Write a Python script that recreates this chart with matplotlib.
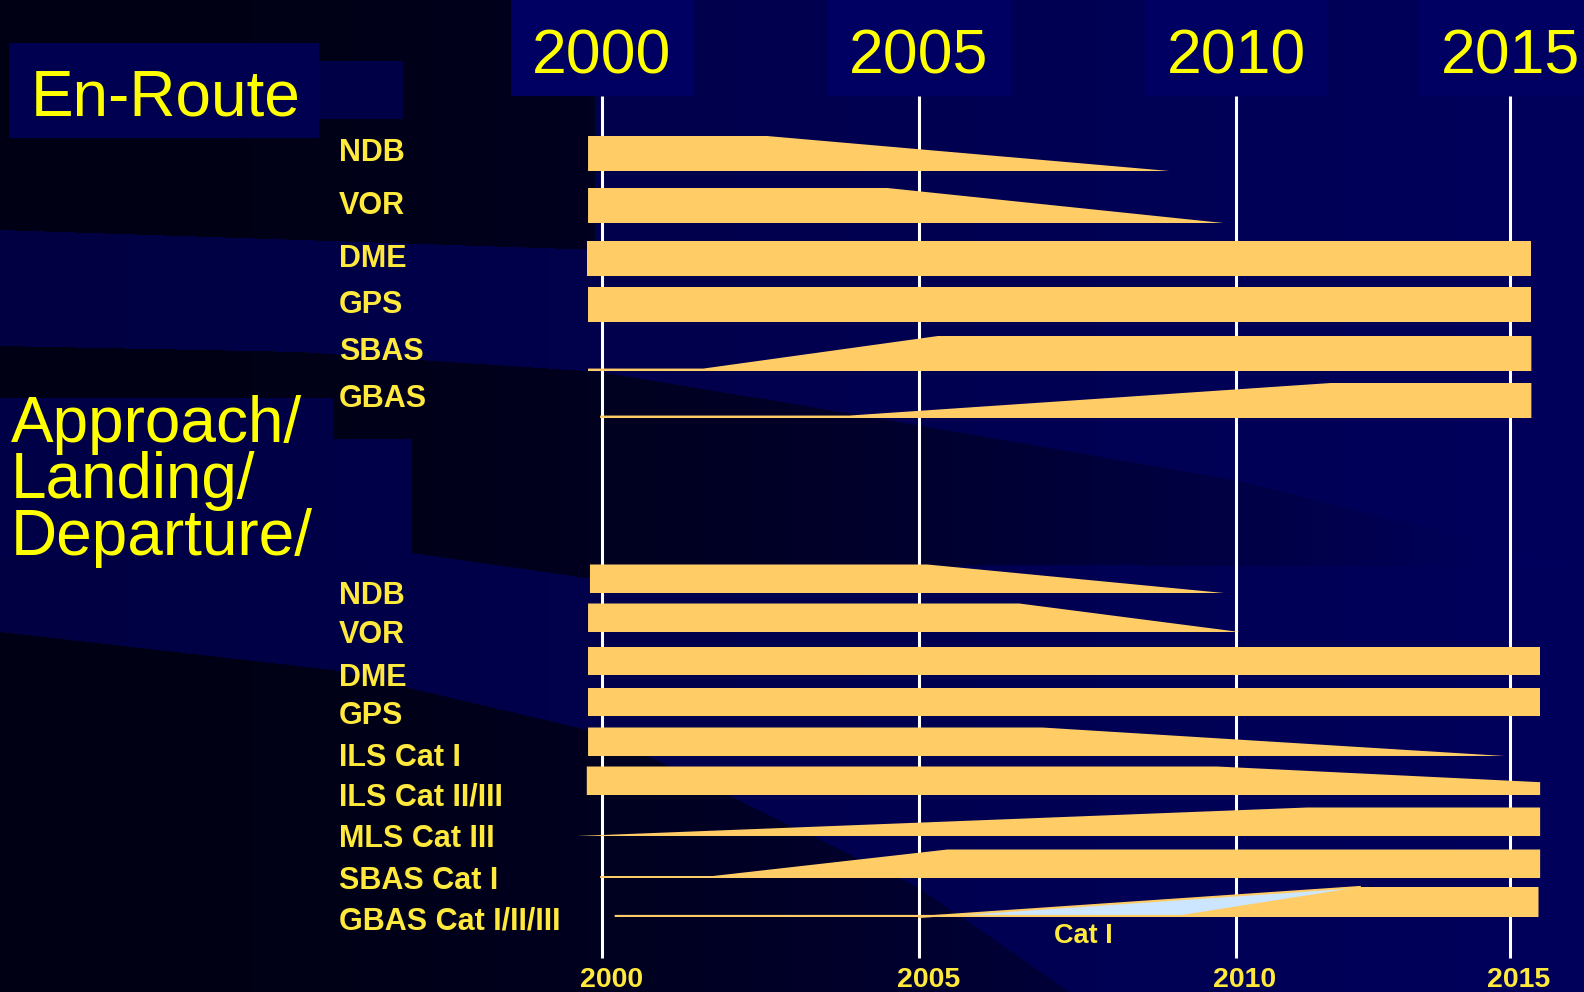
import numpy as np
import matplotlib
matplotlib.use("Agg")
import matplotlib.pyplot as plt
from matplotlib import font_manager
from matplotlib.patches import Rectangle

# ---- data ----
years_axis = [2000, 2005, 2010, 2015]

enroute_labels = ["NDB", "VOR", "DME", "GPS", "SBAS", "GBAS"]
enroute_years = [
    [1999.78, 2002.6, 2008.95],
    [1999.78, 2004.5, 2009.8],
    [1999.76, 2015.39],
    [1999.78, 2015.39],
    [1999.78, 2001.6, 2005.3, 2015.39],
    [1999.97, 2003.9, 2011.73, 2015.39],
]
enroute_level = [
    [1, 1, 0],
    [1, 1, 0],
    [1, 1],
    [1, 1],
    [0.07, 0.07, 1, 1],
    [0.07, 0.07, 1, 1],
]

approach_labels = ["NDB", "VOR", "DME", "GPS", "ILS Cat I", "ILS Cat II/III",
                   "MLS Cat III", "SBAS Cat I", "GBAS Cat I/II/III"]
approach_years = [
    [1999.81, 2005.13, 2009.81],
    [1999.78, 2006.58, 2010.07],
    [1999.78, 2015.55],
    [1999.78, 2015.55],
    [1999.78, 2006.94, 2014.9],
    [1999.76, 2009.7, 2015.55],
    [1999.6, 2011.3, 2015.55],
    [1999.97, 2001.75, 2005.45, 2015.55],
    [2000.2, 2009.15, 2012.26, 2015.52],
]
approach_level = [
    [1, 1, 0],
    [1, 1, 0],
    [1, 1],
    [1, 1],
    [1, 1, 0],
    [1, 1, 0.45],
    [0, 1, 1],
    [0.07, 0.07, 1, 1],
    [0.07, 0.07, 1, 1],
]

# light blue "Cat I" wedge on the GBAS approach row
gbas_cat1_years = [2005.0, 2012.26]
gbas_cat1_level = [0, 1]

# ---- layout (pixels, y downward) ----
W, H = 1584, 992
enroute_bottom = [171, 223, 276, 322, 371, 418]
enroute_h = 35
enroute_text_y = [150, 203, 256, 302, 349, 396]
approach_bottom = [593, 632, 675, 716, 756, 795, 836, 878, 917]
approach_h = [28.5] * 8 + [30]
approach_text_y = [593, 632, 675, 713, 755, 795, 836, 878, 918]

BAR = "#FFCC66"
YEL = "#FFFF00"
LAB = "#FFE93C"

names = {f.name for f in font_manager.fontManager.ttflist}
NARROW = "Liberation Sans Narrow" if "Liberation Sans Narrow" in names else "Liberation Sans"
plt.rcParams["font.family"] = ["Liberation Sans", "DejaVu Sans"]


# timeline is not evenly spaced after 2010 in the original slide
def fwd(x):
    x = np.asarray(x, dtype=float)
    return np.where(x <= 2010, 602 + (x - 2000) * 63.4, 1236 + (x - 2010) * 54.8)


def inv(p):
    p = np.asarray(p, dtype=float)
    return np.where(p <= 1236, 2000 + (p - 602) / 63.4, 2010 + (p - 1236) / 54.8)


fig = plt.figure(figsize=(W / 100, H / 100), dpi=100)

# background
bg = fig.add_axes([0, 0, 1, 1])
bg.set_xlim(0, W)
bg.set_ylim(H, 0)
bg.axis("off")

X, Y = np.meshgrid(np.arange(W) + 0.5, np.arange(H) + 0.5)
dark = 20 + 72 * np.clip(X / 1500, 0, 1) ** 2
navy = 66 + 26 * X / W
blue = navy.copy()
T1 = np.interp(X, [0, 600, W], [230, 250, 250])
B1 = np.interp(X, [0, 300, 600, 800, 1235, W], [346, 352, 372, 405, 480, 567])
T2 = np.interp(X, [0, 412, 600, 1000, W], [551, 553, 580, 565, 567])
B2 = np.interp(X, [0, 333, 600, 919, 1070, W], [632, 670, 733, 888, 992, 1400])
m_ul = (Y < T1) & (X < 595)
m_d1 = (Y > B1) & (Y < T2)
m_d2 = Y > B2
for m in (m_ul, m_d1, m_d2):
    blue[m] = dark[m]
img = np.zeros((H, W, 3))
img[..., 2] = blue / 255
bg.imshow(img, extent=[0, W, H, 0], aspect="auto", interpolation="bilinear")

# title boxes
bg.add_patch(Rectangle((9, 43), 310, 95, color=(0, 0, 80 / 255), lw=0))
bg.add_patch(Rectangle((319, 61), 84, 58, color=(0, 0, 70 / 255), lw=0))
bg.add_patch(Rectangle((0, 398), 333, 160, color=(0, 0, 70 / 255), lw=0))
bg.add_patch(Rectangle((333, 439), 79, 119, color=(0, 0, 72 / 255), lw=0))
for yr in years_axis:
    px = float(fwd(yr))
    bg.add_patch(Rectangle((px - 91, 0), 183, 96, color=(0, 0, 98 / 255), lw=0))

bg.text(31, 116, "En-Route", fontsize=46, color=YEL, va="baseline", ha="left")
# va="baseline" on multi-line text anchors the last line
bg.text(11, 555, "Approach/\nLanding/\nDeparture/", fontsize=46, color=YEL,
        va="baseline", ha="left", linespacing=0.93)

for lab, yc in zip(enroute_labels, enroute_text_y):
    bg.text(339, yc + 11, lab, fontsize=22, fontweight="bold", color=LAB,
            va="baseline", ha="left")
for lab, yc in zip(approach_labels, approach_text_y):
    bg.text(339, yc + 11, lab, fontsize=22, fontweight="bold", color=LAB,
            va="baseline", ha="left")

# chart
ax = fig.add_axes([0, 0, 1, 1])
ax.set_xscale("function", functions=(fwd, inv))
ax.set_xlim(float(inv(0)), float(inv(W)))
ax.set_ylim(H, 0)
ax.axis("off")

ax.vlines(years_axis, 96, 958, color="white", lw=2.2, zorder=1)


def draw_bar(yrs, lev, yb, h, color, z=3, **kw):
    xs = list(yrs) + [yrs[-1], yrs[0]]
    ys = [yb - l * h for l in lev] + [yb, yb]
    ax.fill(xs, ys, color=color, lw=0, zorder=z, **kw)


for yrs, lev, yb in zip(enroute_years, enroute_level, enroute_bottom):
    draw_bar(yrs, lev, yb, enroute_h, BAR)

for i, (yrs, lev, yb, h) in enumerate(zip(approach_years, approach_level,
                                           approach_bottom, approach_h)):
    if i == len(approach_years) - 1:
        draw_bar(gbas_cat1_years, gbas_cat1_level, yb, h, "#CCE6FF", z=2)
        ax.plot(gbas_cat1_years, [yb - l * h for l in gbas_cat1_level],
                color=BAR, lw=1.5, zorder=2.5)
    draw_bar(yrs, lev, yb, h, BAR)

ax.text(2007.6, 943, "Cat I", fontsize=19.5, fontweight="bold", color=LAB,
        ha="center", va="baseline")

for yr in years_axis:
    ax.text(yr, 74, str(yr), fontsize=45, color=YEL, ha="center", va="baseline")
    ax.text(yr + 0.15, 987, str(yr), fontsize=20.5, fontweight="bold", color=LAB,
            family=NARROW, ha="center", va="baseline")

fig.savefig("out.png", dpi=100)
